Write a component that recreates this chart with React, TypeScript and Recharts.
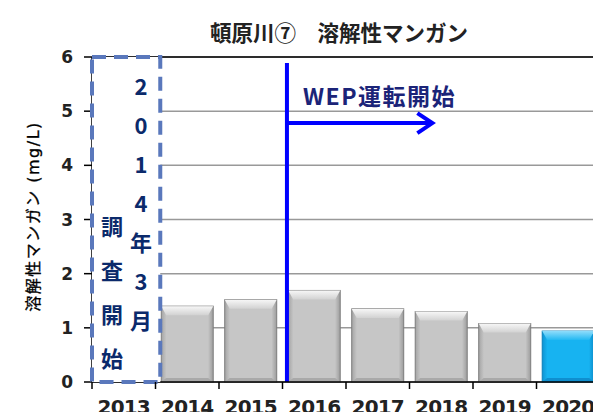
import { BarChart, Bar, XAxis, YAxis, CartesianGrid, Cell, ReferenceArea, ReferenceLine } from 'recharts'

// 調査年度と溶解性マンガン (mg/L)
const YEARS = ['2013', '2014', '2015', '2016', '2017', '2018', '2019', '2020']
const MANGANESE = [null, 1.4, 1.52, 1.69, 1.35, 1.3, 1.08, 0.94]
const Y_TICKS = [0, 1, 2, 3, 4, 5, 6]
const LATEST_YEAR = '2020'

const TITLE = '頓原川⑦　溶解性マンガン'
const Y_LABEL = '溶解性マンガン (mg/L)'
const START_YEAR_CHARS = ['2', '0', '1', '4', '年', '3', '月']
const START_NOTE_CHARS = ['調', '査', '開', '始']
const WEP_LABEL = 'WEP運転開始'

// position on the hidden 0..8 numeric axis (one unit per year)
const WEP_X = 3.07
const WEP_TOP = 5.89
const ARROW_Y = 4.78
const ARROW_END = 5.36
const BOX_END = 1.075

const data = YEARS.map((year, i) => ({ year, pos: i + 0.5, value: MANGANESE[i] }))

const FONT = "'DejaVu Sans', 'Noto Sans CJK JP', sans-serif"
const CJK = "'Noto Sans CJK JP', sans-serif"

const BevelBar = (props: any) => {
    const { x, y, width, height, payload } = props
    if (!height || height <= 0) return null
    const blue = payload.year === LATEST_YEAR
    const id = blue ? 'blue' : 'gray'
    const bevel = Math.min(9, height / 3)
    return (
        <g>
            <rect x={x} y={y} width={width} height={height} fill={`url(#side-${id})`} stroke={blue ? '#0b7fb8' : '#7c7c7c'} strokeWidth={1} />
            <polygon
                points={`${x},${y} ${x + width},${y} ${x + width - 5},${y + bevel} ${x + 5},${y + bevel}`}
                fill={`url(#top-${id})`}
            />
            <polygon
                points={`${x},${y + height} ${x + width},${y + height} ${x + width - 5},${y + height - 4} ${x + 5},${y + height - 4}`}
                fill={blue ? '#0f8fcf' : '#a9a9a9'}
            />
        </g>
    )
}

const XTick = (props: any) => {
    const { x, y, payload } = props
    const off = payload.offset ?? 31.75
    return (
        <g>
            <line x1={x - off} y1={y} x2={x - off} y2={y + 7} stroke="#000" strokeWidth={1.5} />
            <text x={x} y={y + 32} textAnchor="middle" fontSize={20} letterSpacing={-0.8} fontWeight="bold" fill="#222" fontFamily={FONT}>
                {payload.value}
            </text>
        </g>
    )
}

const BoxLabel = (props: any) => {
    const vb = props.viewBox
    if (!vb) return null
    return (
        <g fontFamily={CJK} fontWeight="bold" fontSize={22} fill="#0b2a6b" textAnchor="middle">
            {START_YEAR_CHARS.map((c, i) => (
                <text key={'y' + i} x={vb.x + 49} y={vb.y + 28 + i * 39} dominantBaseline="central">
                    {c}
                </text>
            ))}
            {START_NOTE_CHARS.map((c, i) => (
                <text key={'n' + i} x={vb.x + 20} y={vb.y + 168 + i * 44} dominantBaseline="central">
                    {c}
                </text>
            ))}
        </g>
    )
}

const ArrowShape = (props: any) => {
    const { x1, y1, x2, y2 } = props
    return (
        <g>
            <line x1={x1} y1={y1} x2={x2} y2={y2} stroke="#0000ff" strokeWidth={4} />
            <polyline
                points={`${x2 - 15},${y2 - 10} ${x2},${y2} ${x2 - 15},${y2 + 10}`}
                fill="none"
                stroke="#0000ff"
                strokeWidth={4}
            />
            <text x={x1 + 16} y={y1 - 18} fontSize={23} fontWeight="bold" letterSpacing={1.5} fill="#1b2478" fontFamily={CJK}>
                {WEP_LABEL}
            </text>
        </g>
    )
}

const YLabel = (props: any) => {
    const vb = props.viewBox
    if (!vb) return null
    const cx = vb.x + 33
    const cy = vb.y + vb.height / 2 - 3
    return (
        <text
            x={cx}
            y={cy}
            transform={`rotate(-90 ${cx} ${cy})`}
            textAnchor="middle"
            dominantBaseline="central"
            fontSize={16}
            letterSpacing={1.5}
            fill="#000"
            stroke="#000"
            strokeWidth={0.3}
            fontFamily={FONT}
        >
            {Y_LABEL}
        </text>
    )
}

const App = () => {
    return (
        <div style={{ position: 'absolute', left: 0, top: 0, width: 593, height: 412, overflow: 'hidden', background: '#fff', fontFamily: FONT }}>
            <div
                style={{
                    position: 'absolute',
                    left: 0,
                    top: 21,
                    width: 678,
                    textAlign: 'center',
                    fontSize: 21.5,
                    lineHeight: '22px',
                    fontWeight: 'bold',
                    color: '#222',
                    fontFamily: CJK,
                }}
            >
                {TITLE}
            </div>
            <BarChart width={610} height={412} data={data} margin={{ top: 57, right: 10, left: 0, bottom: 0 }} barCategoryGap="9%">
                <defs>
                    <linearGradient id="side-gray" x1="0" y1="0" x2="1" y2="0">
                        <stop offset="0%" stopColor="#a4a4a4" />
                        <stop offset="10%" stopColor="#c6c6c6" />
                        <stop offset="90%" stopColor="#c6c6c6" />
                        <stop offset="100%" stopColor="#9c9c9c" />
                    </linearGradient>
                    <linearGradient id="top-gray" x1="0" y1="0" x2="0" y2="1">
                        <stop offset="0%" stopColor="#f7f7f7" />
                        <stop offset="100%" stopColor="#d2d2d2" />
                    </linearGradient>
                    <linearGradient id="side-blue" x1="0" y1="0" x2="1" y2="0">
                        <stop offset="0%" stopColor="#0e93d2" />
                        <stop offset="10%" stopColor="#17b3f1" />
                        <stop offset="90%" stopColor="#17b3f1" />
                        <stop offset="100%" stopColor="#0c8ac8" />
                    </linearGradient>
                    <linearGradient id="top-blue" x1="0" y1="0" x2="0" y2="1">
                        <stop offset="0%" stopColor="#8edcfb" />
                        <stop offset="100%" stopColor="#22b8f2" />
                    </linearGradient>
                </defs>
                <CartesianGrid vertical={false} stroke="#999" strokeWidth={1.5} />
                <XAxis
                    dataKey="year"
                    height={30}
                    tickLine={false}
                    tickSize={0}
                    tickMargin={0}
                    axisLine={{ stroke: '#000', strokeWidth: 1.5 }}
                    tick={<XTick />}
                    interval={0}
                />
                <XAxis xAxisId="n" dataKey="pos" type="number" domain={[0, 8]} ticks={[0, 2, 4, 6, 8]} hide allowDataOverflow />
                <YAxis
                    width={92}
                    domain={[0, 6]}
                    ticks={Y_TICKS}
                    interval={0}
                    tickSize={8}
                    tickMargin={11}
                    tickLine={{ stroke: '#000', strokeWidth: 1.5 }}
                    axisLine={{ stroke: '#000', strokeWidth: 1.5 }}
                    tick={{ fontSize: 17, fontWeight: 'bold', fill: '#222', fontFamily: FONT }}
                    label={<YLabel />}
                />
                <ReferenceLine y={6} stroke="#000" strokeWidth={1.5} />
                <Bar dataKey="value" shape={<BevelBar />} isAnimationActive={false}>
                    {data.map((d) => (
                        <Cell key={d.year} fill={d.year === LATEST_YEAR ? '#17b3f1' : '#c6c6c6'} />
                    ))}
                </Bar>
                <ReferenceArea
                    xAxisId="n"
                    x1={0}
                    x2={BOX_END}
                    y1={0}
                    y2={6}
                    fill="#fff"
                    fillOpacity={1}
                    stroke="#5a78bc"
                    strokeWidth={4}
                    strokeDasharray="14 8"
                    label={<BoxLabel />}
                    {...({ zIndex: 700 } as any)}
                />
                <ReferenceLine
                    xAxisId="n"
                    segment={[
                        { x: WEP_X, y: 0 },
                        { x: WEP_X, y: WEP_TOP },
                    ]}
                    stroke="#0000ff"
                    strokeWidth={4}
                />
                <ReferenceLine
                    xAxisId="n"
                    segment={[
                        { x: WEP_X, y: ARROW_Y },
                        { x: ARROW_END, y: ARROW_Y },
                    ]}
                    shape={(p: any) => <ArrowShape {...p} />}
                />
            </BarChart>
        </div>
    )
}

export default App
